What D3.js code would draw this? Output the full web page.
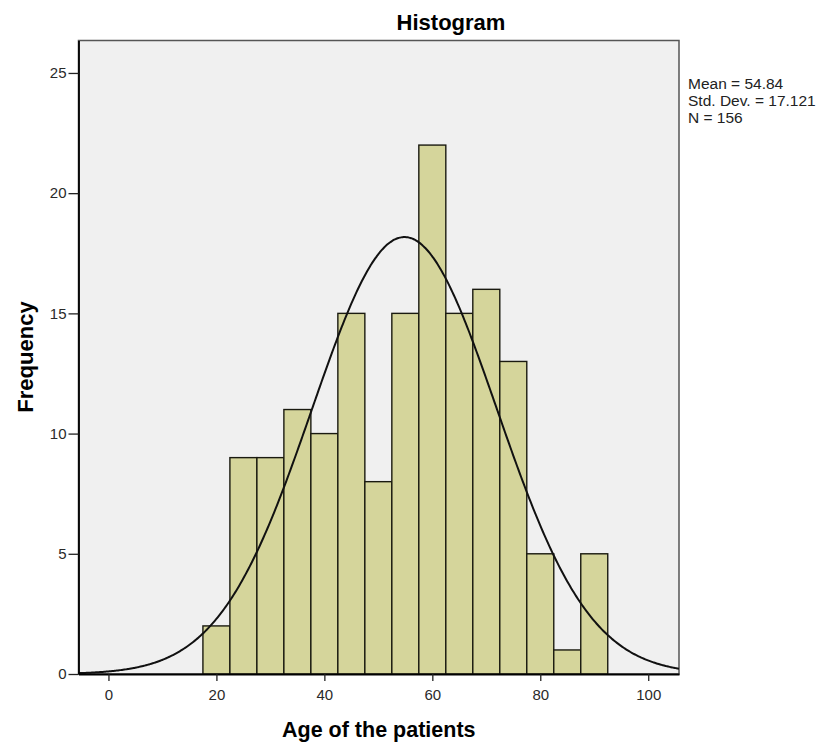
<!DOCTYPE html>
<html>
<head>
<meta charset="utf-8">
<script src="https://cdn.jsdelivr.net/npm/d3@7"></script>
<style>
  body { margin: 0; background: #fff; }
  svg { display: block; font-family: Arial, "Liberation Sans", sans-serif; }
</style>
</head>
<body>
<div class="viz"></div>
<script>
// histogram data (bins are 5 years wide)
const binLower = [17.5, 22.5, 27.5, 32.5, 37.5, 42.5, 47.5, 52.5, 57.5, 62.5, 67.5, 72.5, 77.5, 82.5, 87.5];
const binWidth = 5;
const counts = [2, 9, 9, 11, 10, 15, 8, 15, 22, 15, 16, 13, 5, 1, 5];

const xTicks = [0, 20, 40, 60, 80, 100];
const yTicks = [0, 5, 10, 15, 20, 25];

const statLabels = ["Mean = 54.84", "Std. Dev. = 17.121", "N = 156"];
const mean = 54.84, sd = 17.121, n = 156;

const dimensions = {
    width: 833,
    height: 750,
    margin: { top: 40.5, right: 154, bottom: 76, left: 78.5 },
};
dimensions.boundedWidth = dimensions.width - dimensions.margin.left - dimensions.margin.right;
dimensions.boundedHeight = dimensions.height - dimensions.margin.top - dimensions.margin.bottom;

const wrapper = d3.select(".viz")
    .append("svg")
    .attr("width", dimensions.width)
    .attr("height", dimensions.height);

const bounds = wrapper.append("g")
    .attr("transform", `translate(${dimensions.margin.left},${dimensions.margin.top})`);

// scales
const xScale = d3.scaleLinear()
    .domain([-5.55, 105.7])
    .range([0, dimensions.boundedWidth]);

const yScale = d3.scaleLinear()
    .domain([0, 26.35])
    .range([dimensions.boundedHeight, 0]);

// plot background + frame
bounds.append("rect")
    .attr("width", dimensions.boundedWidth)
    .attr("height", dimensions.boundedHeight)
    .attr("fill", "#f0f0f0")
    .attr("stroke", "#555")
    .attr("stroke-width", 1.5);

// bars
bounds.selectAll(".bar")
    .data(binLower.map((d, i) => ({ x0: d, x1: d + binWidth, count: counts[i] })))
    .enter()
    .append("rect")
    .attr("class", "bar")
    .attr("x", d => xScale(d.x0))
    .attr("y", d => yScale(d.count))
    .attr("width", d => xScale(d.x1) - xScale(d.x0))
    .attr("height", d => yScale(0) - yScale(d.count))
    .attr("fill", "#d5d59b")
    .attr("stroke", "#1a1a10")
    .attr("stroke-width", 1.4);

// normal curve from mean / sd, scaled to counts
const pdf = x => n * binWidth / (sd * Math.sqrt(2 * Math.PI)) * Math.exp(-0.5 * ((x - mean) / sd) ** 2);
const curveXs = d3.range(xScale.domain()[0], xScale.domain()[1] + 0.01, 0.25);
const lineGenerator = d3.line()
    .x(d => xScale(d))
    .y(d => yScale(pdf(d)))
    .curve(d3.curveBasis);

bounds.append("path")
    .attr("d", lineGenerator(curveXs))
    .attr("fill", "none")
    .attr("stroke", "#111")
    .attr("stroke-width", 2);

// axes
const yAxis = bounds.append("g")
    .call(d3.axisLeft(yScale).tickValues(yTicks).tickSize(10).tickSizeOuter(0).tickPadding(2));
const xAxis = bounds.append("g")
    .attr("transform", `translate(0,${dimensions.boundedHeight})`)
    .call(d3.axisBottom(xScale).tickValues(xTicks).tickSize(7).tickSizeOuter(0).tickPadding(8));

[yAxis, xAxis].forEach(ax => {
    ax.select(".domain").attr("stroke", "#000").attr("stroke-width", 1.8);
    ax.selectAll(".tick line").attr("stroke", "#222").attr("stroke-width", 1.3);
    ax.selectAll("text")
        .attr("fill", "#2a2a2a")
        .style("font-size", "15px")
        .style("font-family", "Arial, 'Liberation Sans', sans-serif");
});

// stats box
wrapper.append("g")
    .attr("transform", `translate(688,89)`)
    .selectAll("text")
    .data(statLabels)
    .enter()
    .append("text")
    .attr("y", (d, i) => i * 17)
    .attr("fill", "#222")
    .style("font-size", "15.5px")
    .text(d => d);

// titles
wrapper.append("text")
    .attr("x", 451)
    .attr("y", 30)
    .attr("text-anchor", "middle")
    .style("font-size", "22px")
    .style("font-weight", "bold")
    .text("Histogram");

wrapper.append("text")
    .attr("x", dimensions.margin.left + dimensions.boundedWidth / 2)
    .attr("y", 737)
    .attr("text-anchor", "middle")
    .style("font-size", "21.5px")
    .style("font-weight", "bold")
    .text("Age of the patients");

wrapper.append("text")
    .attr("transform", `translate(33,357) rotate(-90)`)
    .attr("text-anchor", "middle")
    .style("font-size", "22px")
    .style("font-weight", "bold")
    .text("Frequency");
</script>
</body>
</html>
